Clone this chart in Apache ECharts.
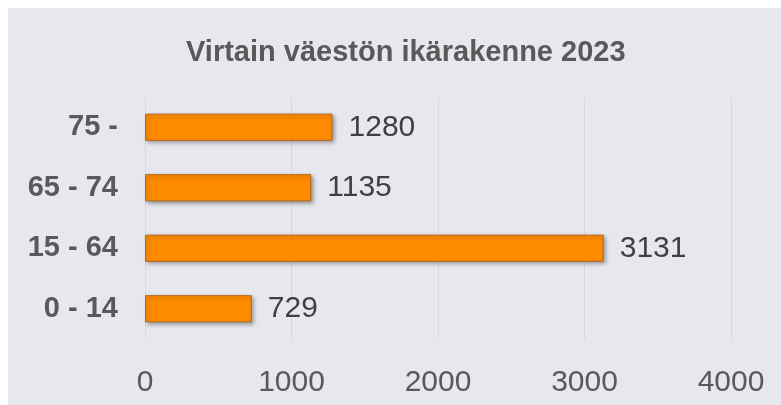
<!DOCTYPE html>
<html>
	<head>
		<meta charset="utf-8" />
		<title>Virrat ikärakenne</title>
		<style type="text/css">
			body,
			html {
				width: 100%;
				height: 100%;
				overflow: hidden;
				margin: 0;
				background: #ffffff;
			}
			#chart {
				position: absolute;
				left: 8px;
				top: 8px;
				width: 773px;
				height: 397px;
				background: #e7e8ee;
			}
		</style>
	</head>
	<body>
		<div id="chart"></div>
		<script src="https://cdn.jsdelivr.net/npm/echarts@6/dist/echarts.min.js"></script>
		<script>
			// ikäryhmät alhaalta ylös
			var ageGroups = ['0 - 14', '15 - 64', '65 - 74', '75 -'];
			var population = [729, 3131, 1135, 1280];
			var xTicks = [0, 1000, 2000, 3000, 4000];

			var dom = document.getElementById('chart');
			var myChart = echarts.init(dom);
			var option = {
				textStyle: { fontFamily: 'Liberation Sans, Arial, sans-serif' },
				title: {
					text: 'Virtain väestön ikärakenne 2023',
					left: 173,
					top: 25,
					textStyle: {
						color: '#595959',
						fontSize: 29,
						fontWeight: 'bold',
					},
				},
				grid: {
					left: 137,
					right: 50,
					top: 89,
					bottom: 66,
				},
				xAxis: {
					type: 'value',
					min: xTicks[0],
					max: xTicks[xTicks.length - 1],
					interval: 1000,
					axisLine: { show: false },
					axisTick: { show: false },
					splitLine: { lineStyle: { color: '#d9d9d9', width: 1 } },
					axisLabel: {
						color: '#595959',
						fontSize: 30,
						margin: 29,
						formatter: function (v) {
							return String(v);
						},
					},
				},
				yAxis: {
					type: 'category',
					data: ageGroups,
					axisLine: { show: false },
					axisTick: { show: false },
					axisLabel: {
						color: '#595959',
						fontSize: 29,
						fontWeight: 'bold',
						margin: 27,
					},
				},
				series: [
					{
						type: 'bar',
						data: population,
						barWidth: '45%',
						itemStyle: {
							color: '#ff8c00',
							borderColor: '#b8661a',
							borderWidth: 1,
							shadowColor: 'rgba(0,0,0,0.35)',
							shadowBlur: 4,
							shadowOffsetX: 2,
							shadowOffsetY: 2,
						},
						label: {
							show: true,
							position: 'right',
							distance: 16,
							color: '#404040',
							fontSize: 30,
						},
					},
				],
			};
			myChart.setOption(option);
		</script>
	</body>
</html>
